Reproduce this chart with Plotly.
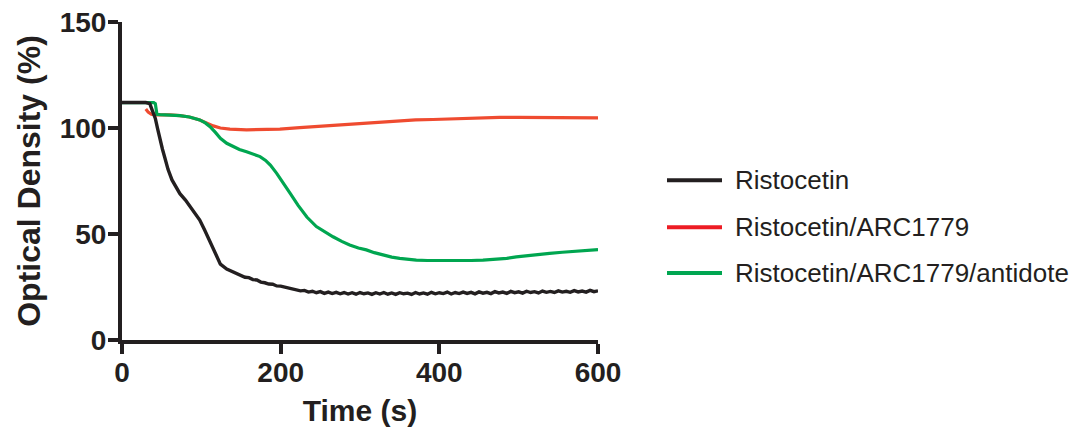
import plotly.graph_objects as go

# ---- data ----
t_risto = [0, 10, 20, 30, 35, 38, 42, 45, 48, 51, 54, 58, 63, 68, 73, 80, 86, 92, 98, 104,
           111, 117, 124, 132,
           140, 145, 150, 155, 160, 165, 170, 175, 180, 185, 190, 195, 200, 205, 210, 215,
           220, 225, 230, 235, 240, 245, 250, 255, 260, 265, 270, 275, 280, 285, 290, 295,
           300, 305, 310, 315, 320, 325, 330, 335, 340, 345, 350, 355, 360, 365, 370, 375,
           380, 385, 390, 395, 400, 405, 410, 415, 420, 425, 430, 435, 440, 445, 450, 455,
           460, 465, 470, 475, 480, 485, 490, 495, 500, 505, 510, 515, 520, 525, 530, 535,
           540, 545, 550, 555, 560, 565, 570, 575, 580, 585, 590, 595, 600]
v_risto = [112, 112, 112, 112, 111.5, 108, 104.5, 99.5, 94, 90, 86, 80.5, 75.5, 72, 69, 66, 63, 60, 56.6, 52,
           46.5, 41, 35.8, 33.5,
           32.2, 31.2, 30.6, 29.6, 29.4, 28.5, 28.3, 27.3, 27.0, 26.4, 26.3, 25.5, 25.4, 24.9, 24.7, 23.9,
           23.8, 23.2, 23.4, 22.6, 23.0, 22.3, 22.8, 22.0, 22.6, 21.9, 22.5, 21.8, 22.4, 21.7, 22.3, 21.6,
           22.4, 21.8, 22.2, 21.5, 22.3, 21.7, 22.4, 21.6, 22.2, 21.5, 22.3, 21.8, 22.1, 21.5, 22.4, 21.7,
           22.2, 21.6, 22.5, 21.8, 22.3, 21.9, 22.6, 21.7, 22.4, 21.9, 22.6, 22.0, 22.5, 21.8, 22.7, 22.1,
           22.5, 21.9, 22.8, 22.2, 22.6, 22.0, 22.9, 22.3, 22.7, 22.1, 23.0, 22.4, 22.8, 22.2, 23.1, 22.5,
           22.9, 22.4, 23.2, 22.6, 23.0, 22.5, 23.3, 22.7, 23.1, 22.6, 23.4, 22.8, 23.2]

t_arc = [30, 33, 37, 42, 50, 60, 73, 85, 98, 106, 115, 124, 136, 157, 180, 199, 224, 241, 260,
         285, 308, 330, 350, 370, 392, 415, 440, 460, 476, 500, 520, 540, 560, 580, 600]
v_arc = [109, 107.5, 106.5, 106.2, 106.2, 106.2, 105.8, 105.2, 103.8, 102.5, 101, 100, 99.5,
         99.1, 99.2, 99.5, 100.2, 100.6, 101.2, 102, 102.5, 103.0, 103.5, 103.8, 104, 104.3,
         104.6, 104.8, 105, 105, 105, 105, 105, 104.9, 104.8]

t_anti = [0, 10, 20, 30, 40, 42, 44, 48, 55, 65, 73, 85, 98, 105, 111, 118, 124, 132, 140, 148,
          157, 165, 174, 181, 187, 195, 203, 212, 222, 233, 245, 255, 266, 277, 287, 298, 308,
          318, 329, 340, 350, 360, 371, 385, 400, 413, 425, 440, 455, 470, 485, 497, 510, 525,
          539, 555, 570, 585, 600]
v_anti = [112, 112, 112, 112, 112, 111.5, 106.5, 106.3, 106.2, 106.2, 105.8, 105.2, 103.8, 102.4,
          100.6, 97.8, 95.1, 92.8, 91.2, 89.9, 88.8, 87.7, 86.5, 84.7, 82.5, 78.6, 73.9, 69.2,
          63.5, 58, 53.5, 51, 48.7, 46.5, 44.8, 43.4, 42.5, 41.2, 40, 39.1, 38.5, 38, 37.7, 37.5,
          37.4, 37.4, 37.3, 37.5, 37.7, 38, 38.5, 39.2, 39.8, 40.3, 40.9, 41.4, 41.9, 42.3, 42.6]

series_names = ["Ristocetin", "Ristocetin/ARC1779", "Ristocetin/ARC1779/antidote"]
x_ticks = [0, 200, 400, 600]
y_ticks = [0, 50, 100, 150]

# ---- styling ----
INK = "#231f20"
line_colors = [INK, "#EF4B30", "#00A650"]
legend_colors = [INK, "#ED1C24", "#00A651"]
FONT = "Liberation Sans, Arial, Helvetica, sans-serif"

series = [(t_risto, v_risto), (t_arc, v_arc), (t_anti, v_anti)]
fig = go.Figure()
for idx in [1, 2, 0]:  # black drawn on top
    tx, vy = series[idx]
    fig.add_trace(go.Scatter(x=tx, y=vy, mode="lines", name=series_names[idx],
                             line=dict(color=line_colors[idx], width=3.4 if idx == 0 else 3.2),
                             showlegend=False))

W, H = 1080, 429
L, R, T, B = 122, 482, 21.5, 89
pw, ph = W - L - R, H - T - B

def px_x(p):
    return (p - L) / pw

def px_y(p):
    return (H - B - p) / ph

shapes, annotations = [], []
leg_y = [180, 227, 273]
for name, col, yy in zip(series_names, legend_colors, leg_y):
    shapes.append(dict(type="line", xref="paper", yref="paper",
                       x0=px_x(667), x1=px_x(722), y0=px_y(yy), y1=px_y(yy),
                       line=dict(color=col, width=4)))
    annotations.append(dict(xref="paper", yref="paper", x=px_x(733), y=px_y(yy),
                            xanchor="left", yanchor="middle", showarrow=False,
                            text=name, font=dict(family=FONT, size=26, color=INK)))

axis_common = dict(showline=True, linewidth=4, linecolor=INK, ticks="outside",
                   ticklen=10, tickwidth=4, tickcolor=INK, showgrid=False, zeroline=False,
                   automargin=False,
                   tickfont=dict(family=FONT, size=28, color=INK, weight="bold"))

fig.update_layout(
    width=W, height=H,
    margin=dict(l=L, r=R, t=T, b=B, pad=0),
    paper_bgcolor="white", plot_bgcolor="white",
    xaxis=dict(range=[0, 600], tickvals=x_ticks, ticktext=[str(v) for v in x_ticks],
               ticklabelstandoff=-6,
               title=dict(text="Time (s)", standoff=14,
                          font=dict(family=FONT, size=30, color=INK, weight="bold")),
               **axis_common),
    yaxis=dict(range=[0, 150], tickvals=y_ticks, ticktext=[str(v) for v in y_ticks],
               ticklabelstandoff=-4,
               title=dict(text="Optical Density (%)", standoff=10,
                          font=dict(family=FONT, size=32, color=INK, weight="bold")),
               **axis_common),
    shapes=shapes, annotations=annotations,
    showlegend=False,
)

fig.write_html("out.html", config={"displayModeBar": False},
               post_script="document.body.style.margin='0';")
